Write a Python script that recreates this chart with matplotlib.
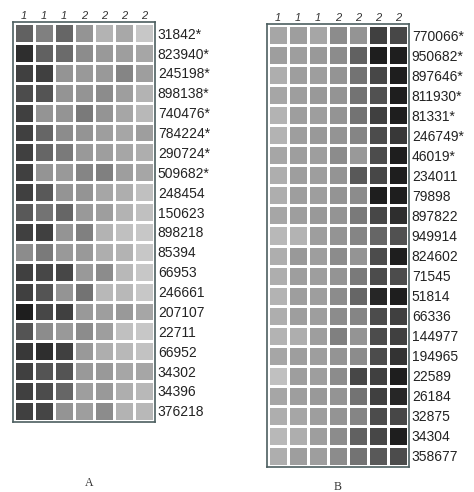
import matplotlib
matplotlib.use("Agg")
import matplotlib.pyplot as plt
import numpy as np

groups = ["1", "1", "1", "2", "2", "2", "2"]

genes_a = ["31842*", "823940*", "245198*", "898138*", "740476*", "784224*", "290724*",
           "509682*", "248454", "150623", "898218", "85394", "66953", "246661",
           "207107", "22711", "66952", "34302", "34396", "376218"]
vals_a = [
    [0.38, 0.50, 0.40, 0.58, 0.70, 0.66, 0.78],
    [0.18, 0.38, 0.42, 0.55, 0.60, 0.62, 0.65],
    [0.25, 0.25, 0.58, 0.60, 0.60, 0.52, 0.62],
    [0.30, 0.33, 0.58, 0.58, 0.55, 0.62, 0.70],
    [0.25, 0.58, 0.58, 0.48, 0.58, 0.65, 0.72],
    [0.25, 0.40, 0.55, 0.58, 0.62, 0.65, 0.62],
    [0.25, 0.40, 0.48, 0.60, 0.62, 0.65, 0.68],
    [0.25, 0.58, 0.60, 0.52, 0.50, 0.62, 0.65],
    [0.25, 0.35, 0.58, 0.58, 0.65, 0.68, 0.75],
    [0.35, 0.45, 0.40, 0.60, 0.62, 0.70, 0.75],
    [0.25, 0.25, 0.58, 0.50, 0.70, 0.75, 0.78],
    [0.55, 0.48, 0.60, 0.60, 0.68, 0.70, 0.78],
    [0.25, 0.28, 0.28, 0.60, 0.55, 0.72, 0.78],
    [0.25, 0.33, 0.58, 0.45, 0.72, 0.72, 0.78],
    [0.12, 0.28, 0.25, 0.60, 0.62, 0.60, 0.65],
    [0.33, 0.55, 0.60, 0.55, 0.62, 0.75, 0.78],
    [0.22, 0.18, 0.25, 0.60, 0.68, 0.72, 0.76],
    [0.25, 0.33, 0.33, 0.60, 0.60, 0.65, 0.65],
    [0.25, 0.30, 0.40, 0.62, 0.60, 0.68, 0.72],
    [0.25, 0.27, 0.58, 0.62, 0.55, 0.70, 0.72],
]

genes_b = ["770066*", "950682*", "897646*", "811930*", "81331*", "246749*", "46019*",
           "234011", "79898", "897822", "949914", "824602", "71545", "51814",
           "66336", "144977", "194965", "22589", "26184", "32875", "34304", "358677"]
vals_b = [
    [0.65, 0.62, 0.65, 0.55, 0.58, 0.25, 0.28],
    [0.62, 0.62, 0.60, 0.55, 0.38, 0.12, 0.12],
    [0.68, 0.62, 0.62, 0.58, 0.45, 0.28, 0.12],
    [0.65, 0.62, 0.60, 0.58, 0.45, 0.32, 0.12],
    [0.70, 0.62, 0.62, 0.58, 0.45, 0.25, 0.12],
    [0.70, 0.62, 0.60, 0.58, 0.52, 0.30, 0.22],
    [0.65, 0.62, 0.62, 0.55, 0.60, 0.30, 0.12],
    [0.68, 0.62, 0.62, 0.58, 0.35, 0.28, 0.12],
    [0.68, 0.62, 0.62, 0.58, 0.55, 0.12, 0.12],
    [0.65, 0.62, 0.60, 0.58, 0.48, 0.28, 0.18],
    [0.72, 0.70, 0.62, 0.58, 0.52, 0.40, 0.32],
    [0.68, 0.60, 0.62, 0.55, 0.58, 0.30, 0.12],
    [0.68, 0.62, 0.62, 0.58, 0.48, 0.30, 0.30],
    [0.70, 0.62, 0.62, 0.55, 0.40, 0.15, 0.12],
    [0.68, 0.62, 0.62, 0.55, 0.52, 0.30, 0.25],
    [0.70, 0.68, 0.62, 0.50, 0.58, 0.30, 0.25],
    [0.65, 0.62, 0.62, 0.58, 0.55, 0.30, 0.20],
    [0.75, 0.62, 0.62, 0.55, 0.28, 0.25, 0.12],
    [0.65, 0.62, 0.60, 0.58, 0.45, 0.25, 0.15],
    [0.68, 0.65, 0.62, 0.58, 0.52, 0.30, 0.28],
    [0.72, 0.68, 0.62, 0.55, 0.38, 0.28, 0.12],
    [0.68, 0.62, 0.62, 0.55, 0.45, 0.35, 0.30],
]

panel_labels = ["A", "B"]

W, H = 474, 492
fig = plt.figure(figsize=(W / 100, H / 100), dpi=100)
fig.patch.set_facecolor("white")


def panel(rect, genes, vals, letter, letter_xy):
    ax = fig.add_axes(rect)
    data = np.array(vals)
    nr, nc = data.shape
    ax.pcolormesh(np.arange(nc + 1), np.arange(nr + 1), data, cmap="gray",
                  vmin=0, vmax=1, edgecolors="white", linewidth=1.8)
    ax.set_xlim(-0.06, nc + 0.06)
    ax.set_ylim(nr + 0.06, -0.06)
    ax.set_xticks([])
    ax.set_yticks(np.arange(nr) + 0.5)
    ax.set_yticklabels(genes, fontsize=10, family="Liberation Sans", color="#222222")
    ax.yaxis.tick_right()
    ax.tick_params(axis="y", length=0, pad=2)
    for s in ax.spines.values():
        s.set_color("#4d5f60")
        s.set_linewidth(1.2)
    for j, g in enumerate(groups):
        ax.text(j + 0.5, -0.12, g, ha="center", va="bottom", fontsize=8,
                style="italic", family="Liberation Sans", color="#333333")
    fig.text(letter_xy[0] / W, 1 - letter_xy[1] / H, letter, ha="center", va="center",
             fontsize=8.5, family="Liberation Serif", color="#333333")
    return ax


panel([13 / W, 1 - 422 / H, 142 / W, 400 / H], genes_a, vals_a, panel_labels[0], (89, 483))
panel([267 / W, 1 - 467 / H, 142 / W, 443 / H], genes_b, vals_b, panel_labels[1], (338, 487))

fig.savefig("out.png", dpi=100, facecolor="white")
